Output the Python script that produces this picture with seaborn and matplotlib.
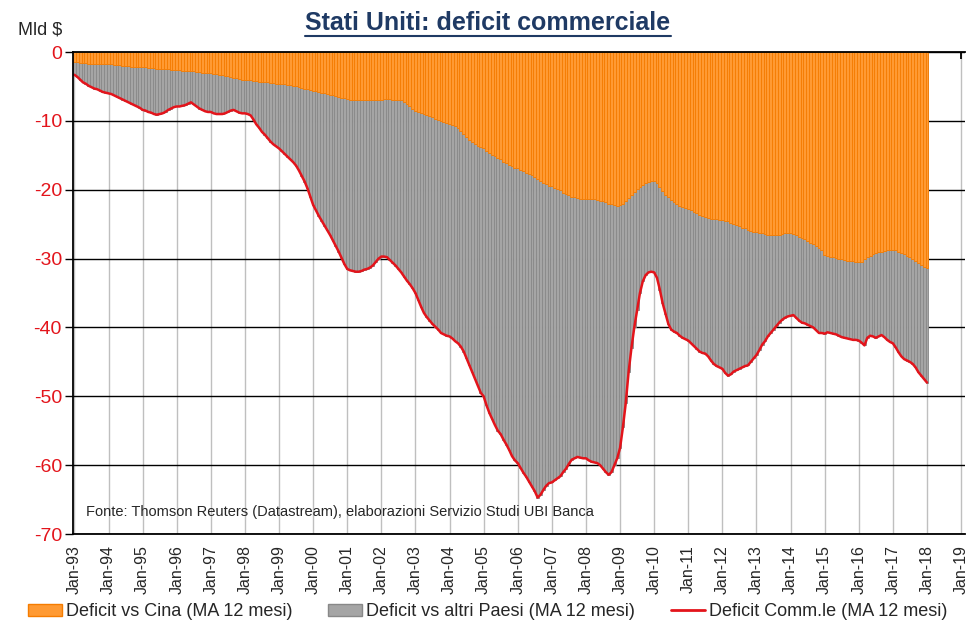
import numpy as np
import pandas as pd
import matplotlib
matplotlib.use("Agg")
import matplotlib.pyplot as plt
import seaborn as sns
from matplotlib.patches import Patch
from matplotlib.lines import Line2D

# Deficit vs Cina, MA 12 mesi (Mld $), mensile da Jan-93 a Jan-18
cina = [
    -1.5, -1.5, -1.6, -1.6, -1.6, -1.7, -1.7, -1.7, -1.7, -1.8, -1.8, -1.8,   # 1993
    -1.8, -1.8, -1.9, -1.9, -1.9, -2.0, -2.0, -2.0, -2.1, -2.1, -2.1, -2.2,   # 1994
    -2.2, -2.2, -2.3, -2.3, -2.3, -2.4, -2.4, -2.5, -2.5, -2.5, -2.6, -2.6,   # 1995
    -2.6, -2.6, -2.7, -2.7, -2.7, -2.8, -2.8, -2.9, -2.9, -3.0, -3.0, -3.1,   # 1996
    -3.1, -3.2, -3.2, -3.3, -3.4, -3.5, -3.5, -3.6, -3.7, -3.8, -3.9, -4.0,   # 1997
    -4.0, -4.1, -4.1, -4.2, -4.2, -4.3, -4.3, -4.4, -4.4, -4.5, -4.5, -4.6,   # 1998
    -4.6, -4.7, -4.7, -4.8, -4.8, -4.9, -5.0, -5.1, -5.2, -5.3, -5.4, -5.5,   # 1999
    -5.6, -5.7, -5.8, -5.9, -6.0, -6.1, -6.2, -6.3, -6.4, -6.5, -6.6, -6.7,   # 2000
    -6.8, -6.9, -6.9, -7.0, -7.0, -7.0, -7.0, -7.0, -6.9, -6.9, -6.9, -6.9,   # 2001
    -6.9, -6.8, -6.8, -6.8, -6.9, -6.9, -6.9, -7.0, -7.3, -7.6, -7.9, -8.2,   # 2002
    -8.5, -8.7, -8.9, -9.0, -9.2, -9.3, -9.5, -9.7, -9.8, -10.0, -10.1, -10.3,  # 2003
    -10.4, -10.6, -10.8, -11.1, -11.5, -11.9, -12.3, -12.7, -13.0, -13.3, -13.6, -13.8,  # 2004
    -14.0, -14.3, -14.6, -14.9, -15.1, -15.4, -15.6, -15.9, -16.1, -16.4, -16.6, -16.8,  # 2005
    -16.9, -17.1, -17.3, -17.5, -17.7, -17.9, -18.1, -18.4, -18.7, -19.0, -19.2, -19.4,  # 2006
    -19.5, -19.7, -19.9, -20.1, -20.4, -20.6, -20.8, -21.0, -21.1, -21.2, -21.3, -21.4,  # 2007
    -21.4, -21.3, -21.3, -21.4, -21.5, -21.6, -21.7, -21.8, -22.0, -22.1, -22.2, -22.3,  # 2008
    -22.2, -22.0, -21.6, -21.2, -20.7, -20.3, -19.9, -19.6, -19.3, -19.0, -18.8, -18.7,  # 2009
    -18.7, -19.0, -19.6, -20.2, -20.7, -21.1, -21.5, -21.8, -22.1, -22.3, -22.5, -22.7,  # 2010
    -22.8, -23.0, -23.2, -23.4, -23.6, -23.8, -24.0, -24.1, -24.2, -24.3, -24.3, -24.4,  # 2011
    -24.4, -24.5, -24.6, -24.8, -24.9, -25.1, -25.3, -25.5, -25.6, -25.8, -26.0, -26.1,  # 2012
    -26.2, -26.3, -26.3, -26.4, -26.5, -26.5, -26.6, -26.6, -26.5, -26.4, -26.3, -26.3,  # 2013
    -26.3, -26.4, -26.6, -26.8, -27.0, -27.2, -27.4, -27.7, -27.9, -28.1, -28.4, -28.7,  # 2014
    -29.5, -29.6, -29.7, -29.8, -29.9, -30.0, -30.1, -30.2, -30.3, -30.4, -30.4, -30.5,  # 2015
    -30.5, -30.5, -30.0, -29.8, -29.6, -29.4, -29.2, -29.1, -29.0, -28.9, -28.8, -28.8,  # 2016
    -28.7, -28.8, -29.0, -29.2, -29.4, -29.6, -29.8, -30.0, -30.3, -30.6, -30.9, -31.2,  # 2017
    -31.4,  # 2018
]

# Deficit commerciale totale, MA 12 mesi (Mld $)
totale = [
    -3.3, -3.6, -4.0, -4.4, -4.6, -4.9, -5.1, -5.3, -5.4, -5.6, -5.8, -5.9,   # 1993
    -6.0, -6.1, -6.3, -6.5, -6.7, -6.9, -7.1, -7.3, -7.5, -7.7, -7.9, -8.1,   # 1994
    -8.4, -8.5, -8.7, -8.8, -9.0, -9.1, -9.0, -8.9, -8.7, -8.4, -8.2, -8.0,   # 1995
    -7.9, -7.9, -7.8, -7.7, -7.5, -7.3, -7.6, -7.9, -8.2, -8.4, -8.6, -8.7,   # 1996
    -8.7, -8.9, -9.0, -9.0, -9.0, -8.9, -8.7, -8.5, -8.4, -8.6, -8.8, -8.9,   # 1997
    -8.9, -9.0, -9.2, -9.8, -10.5, -11.0, -11.6, -12.0, -12.5, -13.0, -13.4, -13.7,  # 1998
    -14.0, -14.4, -14.8, -15.2, -15.6, -16.0, -16.5, -17.2, -18.0, -18.8, -19.8, -21.0,  # 1999
    -22.2, -23.0, -23.8, -24.5, -25.2, -25.9, -26.6, -27.4, -28.2, -29.0, -29.9, -30.8,  # 2000
    -31.5, -31.7, -31.8, -31.9, -31.9, -31.8, -31.6, -31.5, -31.3, -31.0, -30.5, -30.0,  # 2001
    -29.7, -29.7, -29.8, -30.2, -30.6, -31.0, -31.5, -32.0, -32.6, -33.2, -33.7, -34.3,  # 2002
    -35.0, -36.0, -37.0, -37.9, -38.5, -39.0, -39.5, -39.9, -40.3, -40.8, -41.0, -41.2,  # 2003
    -41.3, -41.6, -42.0, -42.3, -42.8, -43.5, -44.5, -45.5, -46.5, -47.5, -48.5, -49.5,  # 2004
    -50.0, -51.3, -52.4, -53.3, -54.2, -55.0, -55.5, -56.3, -57.0, -57.8, -58.7, -59.3,  # 2005
    -59.7, -60.4, -61.1, -61.7, -62.4, -63.1, -63.8, -64.7, -64.3, -63.6, -63.0, -62.6,  # 2006
    -62.5, -62.2, -61.9, -61.6, -61.0, -60.5, -59.8, -59.2, -59.0, -58.8, -58.9, -59.0,  # 2007
    -59.0, -59.3, -59.5, -59.6, -59.7, -60.0, -60.5, -61.0, -61.4, -61.0, -60.0, -59.0,  # 2008
    -57.5, -54.5, -51.0, -46.5, -43.0, -40.0, -37.5, -35.0, -33.3, -32.4, -32.0, -31.9,  # 2009
    -32.0, -32.8, -34.5, -36.5, -38.0, -39.5, -40.3, -40.6, -40.8, -41.2, -41.5, -41.7,  # 2010
    -41.9, -42.3, -42.7, -43.1, -43.5, -43.7, -43.8, -44.2, -44.8, -45.3, -45.6, -45.8,  # 2011
    -46.0, -46.6, -47.0, -46.8, -46.4, -46.2, -46.0, -45.8, -45.6, -45.5, -45.0, -44.5,  # 2012
    -44.0, -43.3, -42.5, -42.0, -41.3, -40.8, -40.3, -39.8, -39.3, -38.9, -38.6, -38.4,  # 2013
    -38.3, -38.2, -38.6, -39.0, -39.3, -39.4, -39.6, -39.8, -40.0, -40.4, -40.8, -40.8,  # 2014
    -40.9, -40.7, -40.8, -40.9, -41.0, -41.2, -41.4, -41.5, -41.6, -41.7, -41.8, -41.8,  # 2015
    -41.9, -42.2, -42.6, -41.5, -41.2, -41.3, -41.5, -41.3, -41.1, -41.4, -41.8, -42.1,  # 2016
    -42.3, -42.9, -43.6, -44.2, -44.6, -44.8, -45.0, -45.3, -45.8, -46.5, -47.0, -47.5,  # 2017
    -48.0,  # 2018
]

anni = list(range(1993, 2020))
etichette_x = [f"Jan-{a % 100:02d}" for a in anni]
etichette_y = ["-70", "-60", "-50", "-40", "-30", "-20", "-10", "0"]

ARANCIO = "#FF9A33"
ARANCIO_BORDO = "#F57C00"
GRIGIO = "#A5A5A5"
GRIGIO_BORDO = "#888888"
ROSSO = "#E3141B"
NAVY = "#1F3A64"

df = pd.DataFrame({"cina": cina, "totale": totale})
df["t"] = 1993 + np.arange(len(df)) / 12.0
df["altri"] = df["totale"] - df["cina"]

sns.set_style("white")
plt.rcParams["font.family"] = ["Liberation Sans", "DejaVu Sans"]

fig = plt.figure(figsize=(9.75, 6.35), dpi=100)
ax = fig.add_axes([0.0749, 0.159, 0.915, 0.759])

# barre grigie = totale (altri Paesi + Cina), poi Cina sopra
sns.barplot(data=df, x="t", y="totale", native_scale=True, width=1.0,
            color=GRIGIO, edgecolor=GRIGIO_BORDO, linewidth=0.6,
            saturation=1, errorbar=None, ax=ax, zorder=2)
sns.barplot(data=df, x="t", y="cina", native_scale=True, width=1.0,
            color=ARANCIO, edgecolor=ARANCIO_BORDO, linewidth=0.6,
            saturation=1, errorbar=None, ax=ax, zorder=3)
sns.lineplot(data=df, x="t", y="totale", color=ROSSO, linewidth=1.8,
             ax=ax, zorder=4)

ax.set_xlim(1993 - 1 / 24, 2019.12)
ax.set_ylim(-70, 0)
ax.set_xticks(anni)
ax.set_xticklabels(etichette_x, rotation=90, fontsize=11.5)
ax.set_yticks(range(-70, 1, 10))
ax.set_yticklabels(etichette_y, fontsize=14, color=ROSSO)
ax.set_xlabel("")
ax.set_ylabel("")

ax.set_axisbelow(True)
ax.yaxis.grid(True, color="black", linewidth=1.0)
ax.xaxis.grid(True, color="#BFBFBF", linewidth=1.0)

for s in ["top", "left", "bottom"]:
    ax.spines[s].set_color("black")
    ax.spines[s].set_linewidth(1.3)
    ax.spines[s].set_zorder(5)
ax.spines["right"].set_visible(False)

ax.tick_params(axis="x", top=True, bottom=False, labeltop=False,
               labelbottom=True, direction="in", length=5, width=1.3,
               color="black", pad=8)
ax.tick_params(axis="y", left=True, direction="out", length=6, width=1.0,
               color="black", pad=2)

ax.text(1993.35, -66.8, "Fonte: Thomson Reuters (Datastream), elaborazioni Servizio Studi UBI Banca",
        fontsize=10.5, va="center", ha="left", zorder=6)

fig.text(18 / 975, 1 - 30 / 635, "Mld $", fontsize=13, ha="left", va="center")
titolo = fig.text(488 / 975, 1 - 23 / 635, "Stati Uniti: deficit commerciale",
                  fontsize=18, fontweight="bold", color=NAVY,
                  ha="center", va="center")

handles = [
    Patch(facecolor=ARANCIO, edgecolor=ARANCIO_BORDO, label="Deficit vs Cina (MA 12 mesi)"),
    Patch(facecolor=GRIGIO, edgecolor=GRIGIO_BORDO, label="Deficit vs altri Paesi (MA 12 mesi)"),
    Line2D([0], [0], color=ROSSO, linewidth=2, label="Deficit Comm.le (MA 12 mesi)"),
]
fig.legend(handles=handles, loc="center", bbox_to_anchor=(0.5, 1 - 612 / 635),
           ncol=3, frameon=False, fontsize=13, handlelength=1.9,
           handleheight=0.6, handletextpad=0.2, columnspacing=2.0)

# sottolineatura del titolo
fig.canvas.draw()
bb = titolo.get_window_extent(renderer=fig.canvas.get_renderer())
W, H = fig.canvas.get_width_height()
y_line = (bb.y0 - 1) / H
fig.add_artist(Line2D([bb.x0 / W, bb.x1 / W], [y_line, y_line],
                      transform=fig.transFigure, color=NAVY, linewidth=1.5))

fig.savefig("out.png", dpi=100)
